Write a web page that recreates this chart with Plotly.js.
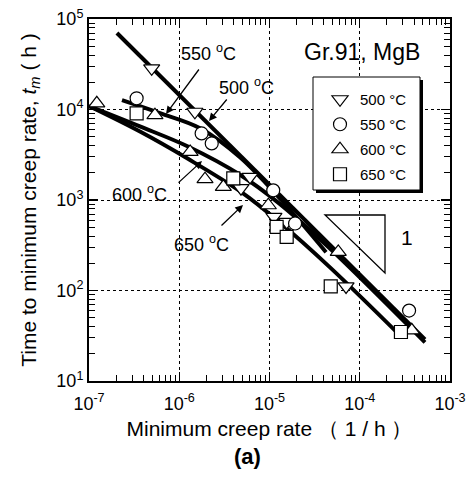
<!DOCTYPE html>
<html>
<head>
<meta charset="utf-8">
<script src="https://cdn.plot.ly/plotly-3.0.1.min.js"></script>
<style>
  html, body { margin: 0; padding: 0; background: #fff; }
  #chart { width: 466px; height: 483px; }
</style>
</head>
<body>
<div id="chart"></div>
<script>
// Gr.91 (MgB): time to minimum creep rate against minimum creep rate

const tempLabels = ['500 °C', '550 °C', '600 °C', '650 °C'];
const symbols = ['triangle-down', 'circle', 'triangle-up', 'square'];

// measured points (minimum creep rate in 1/h, time to minimum creep rate in h)
const rate500 = [4.95e-7, 1.49e-6, 4.83e-6, 6.08e-6, 1.12e-5, 1.55e-5, 7.05e-5];
const time500 = [28500, 9440, 1350, 1800, 650, 573, 111];
const rate550 = [3.37e-7, 1.77e-6, 2.29e-6, 1.10e-5, 1.92e-5, 3.52e-4];
const time550 = [13300, 5440, 4220, 1280, 550, 60];
const rate600 = [1.22e-7, 5.38e-7, 1.32e-6, 1.93e-6, 3.08e-6, 9.7e-6, 5.78e-5, 3.77e-4];
const time600 = [11700, 8670, 3400, 1700, 1400, 875, 267, 36.3];
const rate650 = [3.37e-7, 3.97e-6, 1.20e-5, 1.55e-5, 4.77e-5, 2.86e-4];
const time650 = [9060, 1730, 504, 391, 111, 34.8];

// fitted curves
const fitRate500 = [2.04e-7, 5.28e-4];
const fitTime500 = [70000, 28.8];
const fitRate550 = [2.32e-7, 6.12e-7, 1.70e-6, 4.71e-6, 1.35e-5, 4.23e-5];
const fitTime550 = [12700, 9120, 6220, 2970, 1000, 265];
const fitRate600 = [1e-7, 3.67e-7, 1.25e-6, 4.71e-6, 1.31e-5, 4.68e-5, 5.28e-4];
const fitTime600 = [10900, 6500, 3900, 1900, 900, 290, 26.7];
const fitRate650 = [1e-7, 3.67e-7, 1.25e-6, 4.71e-6, 1.31e-5, 4.68e-5, 2.79e-4];
const fitTime650 = [10900, 5700, 2850, 1250, 560, 180, 31.9];

// axis ticks
const xTickVals = [1e-7, 1e-6, 1e-5, 1e-4, 1e-3];
const xTickText = ['10<sup>-7</sup>', '10<sup>-6</sup>', '10<sup>-5</sup>', '10<sup>-4</sup>', '10<sup>-3</sup>'];
const yTickVals = [1e1, 1e2, 1e3, 1e4, 1e5];
const yTickText = ['10<sup>1</sup>', '10<sup>2</sup>', '10<sup>3</sup>', '10<sup>4</sup>', '10<sup>5</sup>'];

// minor ticks at 2..9 within each decade
function minorTicks(lo, hi) {
  const out = [];
  for (let e = lo; e < hi; e++) {
    for (let m = 2; m <= 9; m++) out.push(m * Math.pow(10, e));
  }
  return out;
}

const W = 466, H = 483;
const M = { l: 89, r: 16, t: 19, b: 102 };
const PW = W - M.l - M.r, PH = H - M.t - M.b;
const px = x => (x - M.l) / PW;
const py = y => 1 - (y - M.t) / PH;

const FONT = 'Arial, "Liberation Sans", sans-serif';

const fits = [
  [fitRate500, fitTime500, 'linear'],
  [fitRate550, fitTime550, 'spline'],
  [fitRate600, fitTime600, 'spline'],
  [fitRate650, fitTime650, 'spline']
];
const points = [
  [rate500, time500],
  [rate550, time550],
  [rate600, time600],
  [rate650, time650]
];

const traces = [];
fits.forEach(([x, y, shape]) => {
  traces.push({
    x, y, type: 'scatter', mode: 'lines', showlegend: false, hoverinfo: 'skip',
    line: { color: '#000', width: 4, shape, smoothing: 1 }
  });
});
points.forEach(([x, y], i) => {
  traces.push({
    x, y, type: 'scatter', mode: 'markers', name: tempLabels[i],
    legendgroup: 'g' + i,
    marker: { symbol: symbols[i], size: i === 1 || i === 3 ? 13 : 14, color: '#fff',
              line: { color: '#000', width: 1.2 } }
  });
});

function label(text, x, y, size) {
  return { text, xref: 'paper', yref: 'paper', x: px(x), y: py(y),
           xanchor: 'center', yanchor: 'middle', showarrow: false,
           font: { family: FONT, size: size || 17, color: '#000' } };
}
function arrow(tailX, tailY, headX, headY) {
  return { text: '', xref: 'paper', yref: 'paper', x: px(headX), y: py(headY),
           ax: tailX - headX, ay: tailY - headY, showarrow: true,
           arrowhead: 2, arrowsize: 1.2, arrowwidth: 1.3, arrowcolor: '#000',
           standoff: 0, startstandoff: 0 };
}

const annotations = [
  label('550 <sup>o</sup>C', 208, 53, 18),
  label('500 <sup>o</sup>C', 246, 87, 18),
  label('600 <sup>o</sup>C', 139, 193, 18),
  label('650 <sup>o</sup>C', 201, 243, 18),
  label('Gr.91, MgB', 362, 52, 23),
  label('1', 407, 238, 21),
  label('<b>(a)</b>', 247, 456, 22),
  arrow(200, 68, 166, 114),
  arrow(228, 98, 209, 121),
  arrow(177, 184, 202, 161),
  arrow(220, 227, 243, 205)
];

const shapes = [
  // legend frame with drop shadow
  { type: 'rect', xref: 'paper', yref: 'paper', layer: 'above',
    x0: px(316), x1: px(423), y0: py(80), y1: py(193),
    fillcolor: '#000', line: { width: 0 } },
  { type: 'rect', xref: 'paper', yref: 'paper', layer: 'above',
    x0: px(313), x1: px(420), y0: py(77), y1: py(190),
    fillcolor: '#fff', line: { color: '#000', width: 1 } },
  // slope 1 triangle
  { type: 'path', xref: 'paper', yref: 'paper', layer: 'above',
    path: `M ${px(325)} ${py(215)} L ${px(385)} ${py(215)} L ${px(385)} ${py(273)} Z`,
    line: { color: '#000', width: 1.3 }, fillcolor: 'rgba(0,0,0,0)' }
];

const axisCommon = {
  type: 'log', showline: true, linecolor: '#000', linewidth: 2, mirror: 'allticks',
  ticks: 'inside', ticklen: 9, tickwidth: 1.2, tickcolor: '#000',
  tickmode: 'array',
  showgrid: true, gridcolor: '#000', gridwidth: 1, griddash: '3px,3px',
  zeroline: false, tickfont: { family: FONT, size: 18, color: '#000' },
  automargin: false
};

const layout = {
  width: W, height: H, margin: M,
  paper_bgcolor: '#fff', plot_bgcolor: '#fff',
  showlegend: true,
  legend: {
    x: px(320), y: py(83), xanchor: 'left', yanchor: 'top',
    bgcolor: 'rgba(0,0,0,0)', borderwidth: 0,
    font: { family: FONT, size: 15, color: '#000' },
    traceorder: 'grouped', tracegroupgap: 2.5, itemwidth: 30
  },
  xaxis: Object.assign({}, axisCommon, {
    range: [-7, -3], tickvals: xTickVals, ticktext: xTickText, ticklabelstandoff: 5,
    minor: { tickmode: 'array', tickvals: minorTicks(-7, -3), ticks: 'inside', ticklen: 6, tickwidth: 1, tickcolor: '#000', showgrid: false },
    title: { text: 'Minimum creep rate （ 1 / h ）', font: { family: FONT, size: 21, color: '#000' }, standoff: 9 }
  }),
  yaxis: Object.assign({}, axisCommon, {
    range: [1, 5], tickvals: yTickVals, ticktext: yTickText,
    minor: { tickmode: 'array', tickvals: minorTicks(1, 5), ticks: 'inside', ticklen: 6, tickwidth: 1, tickcolor: '#000', showgrid: false },
    title: { text: 'Time to minimum creep rate, <i>t</i><sub><i>m</i></sub> ( h )', font: { family: FONT, size: 21, color: '#000' }, standoff: 14 }
  }),
  annotations, shapes
};

Plotly.newPlot('chart', traces, layout, { displayModeBar: false, staticPlot: true });
</script>
</body>
</html>
